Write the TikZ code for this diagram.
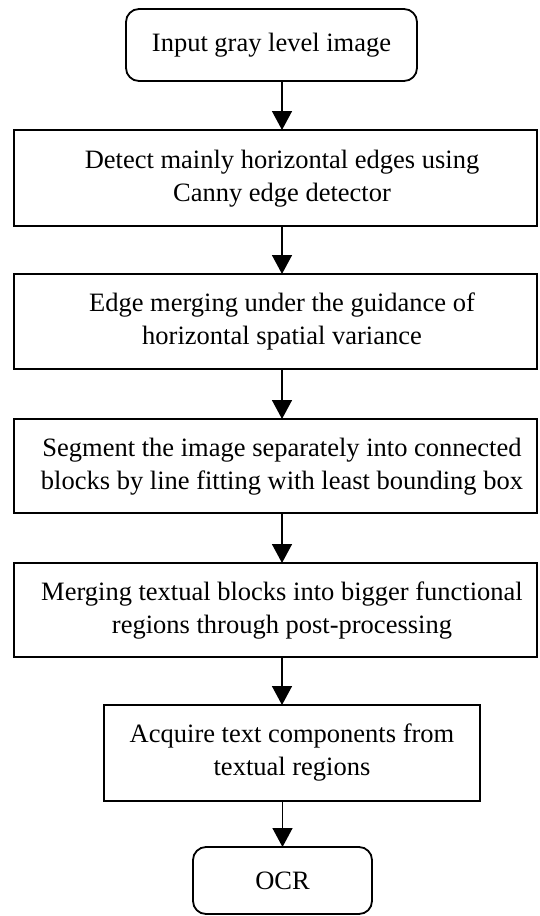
\documentclass[tikz,border=0pt]{standalone}
\usepackage{fontspec}
\setmainfont{Liberation Serif}
\usetikzlibrary{arrows.meta}
% two centred lines, nudged right inside a box
\newcommand{\nudgedlines}[1]{\hspace*{13pt}\begin{tabular}{@{}c@{}}#1\end{tabular}}
\begin{document}
\begin{tikzpicture}[x=1pt,y=-1pt,
  every node/.style={font=\fontsize{26.5}{33}\selectfont,
    inner sep=0pt, outer sep=0pt},
  procbox/.style={draw=black, line width=1.8pt, rectangle},
  termbox/.style={procbox, rounded corners=13pt},
  widebox/.style={procbox, minimum width=523pt},
  flow/.style={line width=1.5pt, -{Triangle[width=20pt,length=19pt]}}]

% page area
\path[fill=white, use as bounding box] (0,0) rectangle (540,916);

% vertical line the arrows run along
\coordinate (axis) at (282,0);

% process chain, top to bottom
\node[termbox, minimum width=291pt, minimum height=72pt] (start) at (271.5,45)
  {Input gray level image};
\node[widebox, minimum height=96pt] (detect) at (275.5,178)
  {\nudgedlines{Detect mainly horizontal edges using\\Canny edge detector}};
\node[widebox, minimum height=95pt] (merge) at (275.5,321.5)
  {\nudgedlines{Edge merging under the guidance of\\horizontal spatial variance}};
\node[widebox, minimum height=94pt] (segment) at (275.5,466)
  {\nudgedlines{Segment the image separately into connected\\blocks by line fitting with least bounding box}};
\node[widebox, minimum height=94pt] (regions) at (275.5,610)
  {\nudgedlines{Merging textual blocks into bigger functional\\regions through post-processing}};
\node[procbox, align=center, minimum width=376pt, minimum height=96pt] (acquire) at (292,753)
  {Acquire text components from\\textual regions};
\node[termbox, minimum width=179pt, minimum height=67pt] (ocr) at (282.5,880.5)
  {OCR};

% connectors
\draw[flow] (start.south -| axis) -- (detect.north -| axis);
\draw[flow] (detect.south -| axis) -- (merge.north -| axis);
\draw[flow] (merge.south -| axis) -- (segment.north -| axis);
\draw[flow] (segment.south -| axis) -- (regions.north -| axis);
\draw[flow] (regions.south -| axis) -- (acquire.north -| axis);
\draw[flow] (acquire.south -| ocr.north) -- (ocr.north);
\end{tikzpicture}
\end{document}
